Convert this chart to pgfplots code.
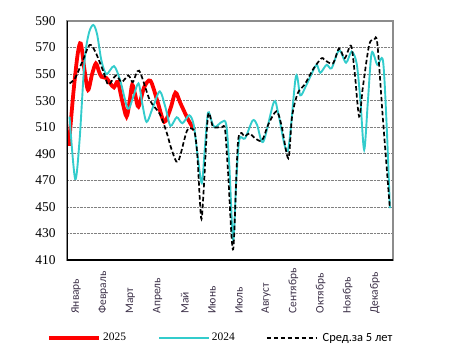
\documentclass[border=0pt]{standalone}
\usepackage{fontspec}
\setmainfont{Liberation Serif}
\newfontfamily\calfont{Carlito}
\usepackage{pgfplots}
\pgfplotsset{compat=1.18}
\definecolor{cyanline}{RGB}{51,204,204}
\definecolor{lbl}{RGB}{60,48,72}
\begin{document}
\begin{tikzpicture}[x=1bp,y=1bp]
\path[use as bounding box] (0,0) rectangle (453,359);
\begin{axis}[
  at={(67bp,99bp)}, anchor=south west,
  scale only axis, width=326bp, height=239bp,
  xmin=0.5, xmax=52.5, ymin=410, ymax=590,
  ytick={410,430,...,590},
  xtick={1.95,6.28,10.62,14.95,19.28,23.62,27.95,32.28,36.62,40.95,45.28,49.62},
  xticklabels={Январь,Февраль,Март,Апрель,Май,Июнь,Июль,Август,Сентябрь,Октябрь,Ноябрь,Декабрь},
  major tick length=0,
  ymajorgrids,
  grid style={densely dotted, gray, line width=0.7pt},
  axis line style={draw=gray!90, line width=1.3pt},
  /pgf/number format/assume math mode=true,
  yticklabel style={font=\fontsize{13.5}{14}\selectfont, xshift=-8bp},
  xticklabel style={font=\calfont\fontsize{11.5}{12}\selectfont, text=lbl, yshift=-57bp, rotate=90, anchor=west},
  legend style={at={(0.472,-0.326)}, anchor=center, draw=none, fill=none, legend columns=3,
    font=\fontsize{11.5}{12}\selectfont, inner sep=0pt,
    nodes={inner sep=2pt}},
  legend cell align=left,
  legend image code/.code={\draw[#1] (0bp,0bp) -- (50bp,0bp);},
]
\addplot[red, line width=3.8pt, smooth] coordinates {
(0.8,496) (1.5,535) (2.2,565) (2.7,573) (3.3,553) (3.85,538) (4.5,550) (5.1,558) (5.6,552) (6.0,548) (6.8,547) (7.4,543) (8.0,540) (8.6,544) (9.3,530) (10.0,518) (10.5,530) (10.9,542) (11.4,534) (11.9,525.5) (12.8,540) (13.8,545) (14.9,530) (16.0,514) (17.0,524) (17.8,536) (18.6,528) (19.8,516) (20.8,508)
};
\addlegendentry{\makebox[53bp][l]{2025}}
\addplot[cyanline, line width=1.9pt, smooth] coordinates {
(0.9,518) (1.8,471) (2.5,500) (3.3,560) (4.0,581) (4.7,587) (5.3,580) (6.0,560) (6.8,550) (8.0,556) (9.0,545) (10.2,524) (11.0,532) (11.9,543) (12.5,528) (13.2,514) (14.2,525) (15.3,537) (16.2,525) (17.0,511) (18.0,517.5) (18.9,513) (20.0,519) (20.7,512) (21.3,490) (22.0,468) (22.5,495) (23.0,521) (23.6,514) (24.1,510) (25.2,514) (25.9,512) (26.4,480) (27.0,425) (27.5,470) (28.0,501) (28.9,501.6) (30.1,515) (30.8,512) (31.8,499) (33.5,529) (34.2,520.5) (35.7,492) (37,548) (37.7,534) (38.5,540) (39.3,548) (40.3,557) (40.9,551) (41.9,557) (42.7,554.4) (43.9,568) (45,558.6) (45.9,567) (46.7,558) (47.3,530) (47.9,493) (48.5,530) (49.1,566) (50,557) (50.9,560) (51.5,510) (52,449)
};
\addlegendentry{\makebox[52bp][l]{2024}}
\addplot[black, line width=1.7pt, dash pattern=on 4.5pt off 2.5pt, smooth] coordinates {
(0.9,543) (1.8,547) (3.0,560) (4.1,572) (5.0,567) (6.3,552) (7.1,542) (8.3,549) (9.2,544) (10.3,549) (11.0,544) (12.0,552.6) (13.7,530.5) (15.3,520) (16.4,506) (17.2,493) (18.2,484) (19.6,507) (20.4,509) (20.9,505.4) (21.3,488) (21.9,441.4) (22.3,462.7) (23.0,519) (23.8,510.4) (25.2,510) (25.7,508.5) (26.2,475.3) (27.0,418) (27.8,500) (28.9,503) (29.6,505.4) (30.5,501.7) (31.6,500) (32.6,512) (33.9,522) (34.7,511.7) (35.8,486.6) (36.4,518) (37.3,535.6) (38.4,542) (39.8,554) (41.1,562) (41.5,561) (42.9,558) (43.9,569.4) (44.8,562) (45.8,571.4) (46.4,550.6) (47.1,518) (47.7,540.5) (48.7,572) (49.5,576) (50,573) (50.9,515.5) (52,449)
};
\addlegendentry{\hspace{3bp}\calfont\fontsize{12.5}{13}\selectfont Сред.за 5 лет}
\draw[black, line width=1.4pt] (rel axis cs:0,1) -- (rel axis cs:0,0) -- (rel axis cs:1,0);
\end{axis}
\end{tikzpicture}
\end{document}
